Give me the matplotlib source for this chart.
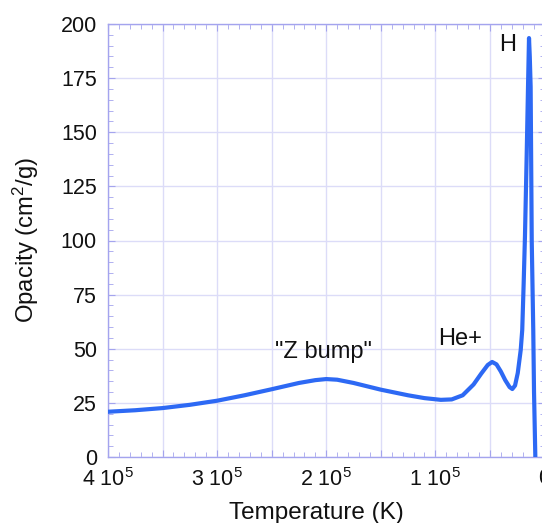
import numpy as np
import matplotlib
matplotlib.use("Agg")
from matplotlib import pyplot as plt
from matplotlib.ticker import MultipleLocator, FuncFormatter

plt.rcParams["font.family"] = ["Liberation Sans", "DejaVu Sans"]
plt.rcParams["mathtext.fontset"] = "custom"
plt.rcParams["mathtext.rm"] = "Liberation Sans"
plt.rcParams["mathtext.it"] = "Liberation Sans:italic"

# temperature (units of 1e5 K) and Rosseland opacity (cm^2/g)
temp = [4.0, 3.75, 3.5, 3.25, 3.0, 2.75, 2.5, 2.25, 2.1, 2.0, 1.9, 1.75,
        1.5, 1.25, 1.1, 0.95, 0.85, 0.75, 0.65, 0.58, 0.52, 0.48, 0.44,
        0.40, 0.36, 0.32, 0.295, 0.27, 0.245, 0.218, 0.204, 0.191, 0.179,
        0.163, 0.151, 0.142, 0.135, 0.127, 0.117, 0.103, 0.096, 0.084]
opacity = [20.9, 21.6, 22.6, 24.1, 26.0, 28.5, 31.3, 34.2, 35.5, 36.0,
           35.7, 34.2, 31.1, 28.5, 27.2, 26.4, 26.6, 28.5, 33.5, 38.5,
           42.5, 43.9, 42.8, 39.5, 35.5, 32.3, 31.4, 33.0, 38.8, 49.4,
           58.7, 80.0, 102.0, 140.0, 171.0, 193.5, 185.0, 171.0, 100.0,
           58.7, 30.0, 0.0]

labels = ["H", "He+", '"Z bump"']
label_temp = [0.335, 0.77, 2.03]
label_opacity = [190.3, 54.5, 48.3]

axis_col = "#a4a4ee"
grid_col = "#dcdcf8"
text_col = "#111111"

fig = plt.figure(figsize=(5.42, 5.23), dpi=100)
ax = fig.add_axes([108 / 542, 66 / 523, 436.5 / 542, 433 / 523])

T = np.array(temp) * 1e5
ax.plot(T, opacity, color="#2d69f4", lw=3.0, solid_joinstyle="round",
        solid_capstyle="round", zorder=3)

for s, t, k in zip(labels, label_temp, label_opacity):
    ax.text(t * 1e5, k, s, ha="center", va="center", fontsize=17,
            color=text_col)

ax.set_xlim(4e5, 0)
ax.set_ylim(0, 200)

ax.xaxis.set_major_locator(MultipleLocator(0.5e5))
ax.xaxis.set_minor_locator(MultipleLocator(0.1e5))
ax.yaxis.set_major_locator(MultipleLocator(25))
ax.yaxis.set_minor_locator(MultipleLocator(5))


def xfmt(v, pos):
    n = v / 1e5
    if abs(n - round(n)) > 1e-6:
        return ""
    if round(n) == 0:
        return "0"
    return f"{int(round(n))} 10$^5$"


ax.xaxis.set_major_formatter(FuncFormatter(xfmt))

ax.grid(True, which="major", color=grid_col, lw=1.0)
ax.set_axisbelow(True)
for sp in ax.spines.values():
    sp.set_color(axis_col)
    sp.set_linewidth(1.0)

ax.tick_params(which="both", direction="in", top=True, right=True,
               color=axis_col, labelcolor=text_col, labelsize=15.5)
ax.tick_params(which="major", length=5, pad=8)
ax.tick_params(which="minor", length=3.5)

ax.set_xlabel("Temperature (K)", fontsize=17.5, color=text_col)
ax.set_ylabel("Opacity (cm$^2$/g)", fontsize=17.2, color=text_col)
ax.xaxis.set_label_coords((316 - 108) / 436.5, -(502 - 457) / 433)
ax.yaxis.set_label_coords(-(108 - 41) / 436.5, 0.5)

fig.savefig("out.png", dpi=100)
